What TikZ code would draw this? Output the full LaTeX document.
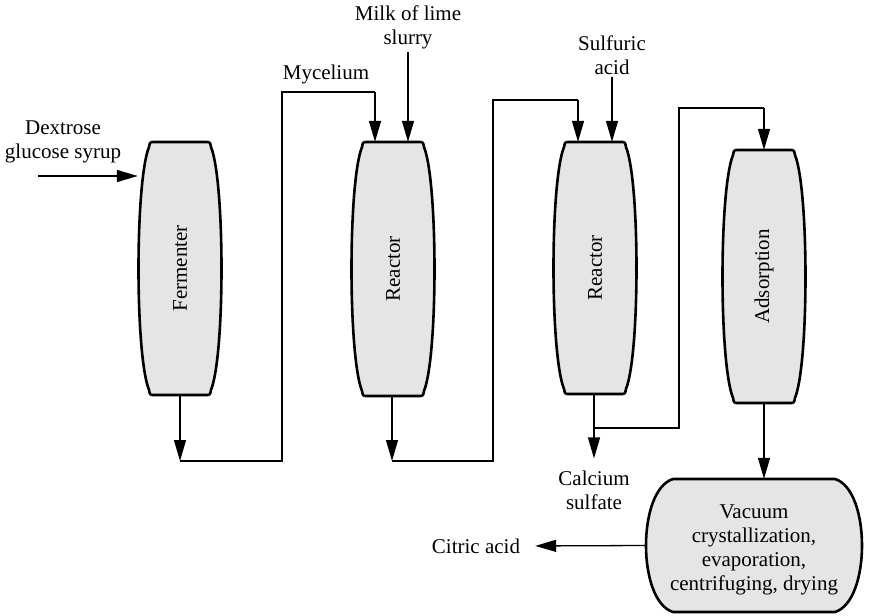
\documentclass[tikz,border=0pt]{standalone}
\usepackage{fontspec}
\setmainfont{Liberation Serif}
\usetikzlibrary{arrows.meta,calc}
\tikzset{
  vesselline/.style={line width=2.6pt, fill=black!10, draw=black, line join=round},
  conn/.style={line width=1.3pt, draw=black},
  arr/.style={conn, -{Triangle[length=21pt,width=12pt]}},
  lbl/.style={align=center, inner sep=2pt, font=\fontsize{21}{24}\selectfont},
  vlabel/.style={inner sep=0pt, minimum width=84pt, font=\fontsize{21}{24}\selectfont}
}
\newcommand\vesselpath[3]{%
  \filldraw[vesselline] (#1-26,#2) -- (#1+26,#2) .. controls (#1+30,#2) .. (#1+31,#2+5)
    .. controls (#1+45,#2+40) and (#1+45,#3-40) .. (#1+31,#3-5)
    .. controls (#1+30,#3) .. (#1+26,#3) -- (#1-26,#3)
    .. controls (#1-30,#3) .. (#1-31,#3-5)
    .. controls (#1-45,#3-40) and (#1-45,#2+40) .. (#1-31,#2+5)
    .. controls (#1-30,#2) .. cycle;}
\begin{document}
\begin{tikzpicture}[x=1pt,y=-1pt]
\useasboundingbox (0,0) rectangle (871,616);
% vessels
\vesselpath{180}{142}{395}
\vesselpath{393}{142}{396}
\vesselpath{595}{142}{394}
\vesselpath{764}{150}{403}
\filldraw[vesselline] (673,479) -- (835,479) .. controls (871,490) and (871,601) .. (835,612)
  -- (673,612) .. controls (637,601) and (637,490) .. cycle;
\node[vlabel, minimum height=253pt] (ferm) at (180,268.5) {\rotatebox{90}{Fermenter}};
\node[vlabel, minimum height=254pt] (reac1) at (393,269) {\rotatebox{90}{Reactor}};
\node[vlabel, minimum height=252pt] (reac2) at (595,268) {\rotatebox{90}{Reactor}};
\node[vlabel, minimum height=253pt] (ads) at (764,276.5) {\rotatebox{90}{Adsorption}};
\node[inner sep=0pt, minimum width=216pt, minimum height=133pt] (vac) at (754,545.5) {};
\node[lbl, yshift=-4pt] (vactext) at (vac.center)
  {Vacuum\\crystallization,\\evaporation,\\centrifuging, drying};
% labels
\node[lbl] (dex) at (63,142) {Dextrose\\glucose syrup};
\node[lbl] (myc) at (326,74) {Mycelium};
\node[lbl] (milk) at (408,27) {Milk of lime\\slurry};
\node[lbl] (sulf) at (612,55) {Sulfuric\\acid};
\node[lbl] (calc) at (594,490) {Calcium\\sulfate};
\node[lbl] (cit) at (476,546) {Citric acid};
% bend points
\coordinate (f1) at (180,461);
\coordinate (f2) at (282,461);
\coordinate (f3) at (282,92);
\coordinate (f4) at (375,92);
\coordinate (r1) at (392,461);
\coordinate (r2) at (493,461);
\coordinate (r3) at (493,100);
\coordinate (r4) at (578,100);
\coordinate (s1) at (594,428);
\coordinate (s2) at (679,428);
\coordinate (s3) at (679,108);
\coordinate (s4) at (764,108);
\coordinate (d0) at (38,176);
% connectors
\draw[arr] (d0) -- (d0 -| ferm.west);
\draw[arr] (ferm.south) -- (f1);
\draw[conn] (f1) -- (f2) -- (f3) -- (f4);
\draw[arr] (f4) -- (f4 |- reac1.north);
\draw[arr, shorten <=1pt] (milk.south) -- (milk.south |- reac1.north);
\draw[arr] (reac1.south -| r1) -- (r1);
\draw[conn] (r1) -- (r2) -- (r3) -- (r4);
\draw[arr] (r4) -- (r4 |- reac2.north);
\draw[arr] (sulf.south) -- (sulf.south |- reac2.north);
\draw[arr, shorten >=10pt] (reac2.south -| s1) -- (calc.north -| s1);
\draw[conn] (s1) -- (s2) -- (s3) -- (s4);
\draw[arr] (s4) -- (ads.north);
\draw[arr] (ads.south) -- (vac.north -| ads.south);
\draw[arr, shorten >=13pt] (vac.west) -- (cit.east);
\end{tikzpicture}
\end{document}
